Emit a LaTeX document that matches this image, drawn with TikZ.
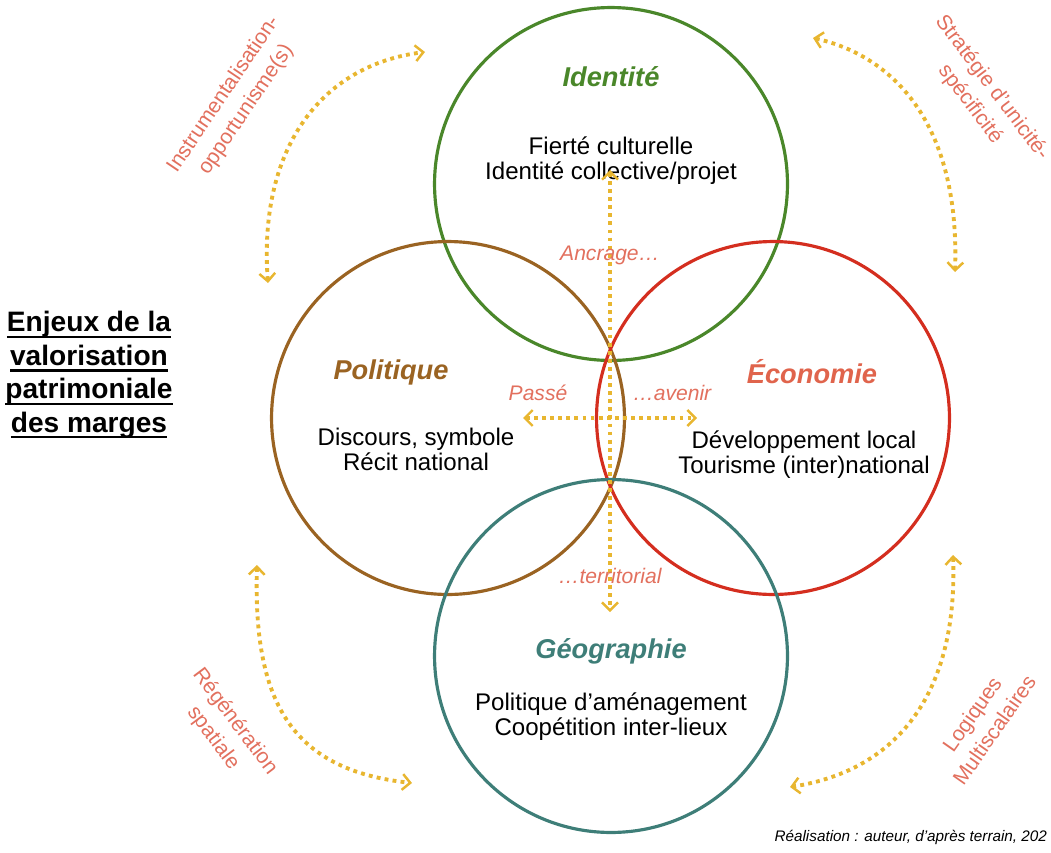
\documentclass[tikz,border=0pt]{standalone}
\usepackage{fontspec}
\setmainfont{Liberation Sans}
\usetikzlibrary{arrows.meta}
\newcommand\uln[1]{\leavevmode\setbox0=\hbox{#1}\rlap{\rule[-3.6pt]{\wd0}{1.3pt}}\box0}
\definecolor{idgreen}{HTML}{4A872A}
\definecolor{polbrown}{HTML}{9A6322}
\definecolor{ecored}{HTML}{D42E1F}
\definecolor{ecotext}{HTML}{E0644C}
\definecolor{geoteal}{HTML}{3E7E78}
\definecolor{salmon}{HTML}{E2705E}
\definecolor{gold}{HTML}{E8B630}
\tikzset{
every picture/.style={line width=0.8pt,
                      >={Straight Barb[length=4.5pt,width=9pt,line width=1.4pt]}},
%%%%%%%%%%  Node styles
sphere/.style={circle,draw,line width=1.8pt,inner sep=0pt,
               minimum size=7.06cm},
heading/.style={font=\fontsize{15.5}{18}\selectfont\bfseries\itshape},
body/.style={align=center,font=\fontsize{13.7}{14.3}\selectfont},
hint/.style={text=salmon,font=\fontsize{12}{13}\selectfont\itshape},
side/.style={text=salmon,align=center,font=\fontsize{12}{15.5}\selectfont},
%%%% arrow styles:
dotted link/.style={<->,draw=gold,line width=2.2pt,
                    dash pattern=on 2.2pt off 2.4pt}
}
\begin{document}
\begin{tikzpicture}[x=0.02cm,y=-0.02cm]
\useasboundingbox (0,0) rectangle (1051,852);
%%%% the four circles
\node[sphere,draw=idgreen] (idt) at (611,184) {};
\node[sphere,draw=polbrown] (pol) at (448,418) {};
\node[sphere,draw=ecored] (eco) at (773,418) {};
\node[sphere,draw=geoteal] (geo) at (611,656) {};
%%%% titles and contents
\node[heading,text=idgreen] (idt title) at (611,77) {Identité};
\node[body] (idt text) at (611,161) {Fierté culturelle\\Identité collective/projet};
\node[heading,text=polbrown] (pol title) at (391,372) {Politique};
\node[body] (pol text) at (416,449) {Discours, symbole\\Récit national};
\node[heading,text=ecotext] (eco title) at (812,372) {Économie};
\node[body] (eco text) at (804,455) {Développement local\\Tourisme (inter)national};
\node[heading,text=geoteal] (geo title) at (611,651) {Géographie};
\node[body] (geo text) at (611,717) {Politique d’aménagement\\Coopétition inter-lieux};
%%%% central cross
\coordinate (up) at (610,170);
\coordinate (down) at (610,612);
\coordinate (left) at (523,418);
\coordinate (right) at (697,418);
\draw[dotted link] (up) -- (down);
\draw[dotted link] (left) -- (right);
\node[hint] (anchor) at (610,255) {Ancrage…};
\node[hint] (past) at (538,393) {Passé};
\node[hint] (future) at (672,393) {…avenir};
\node[hint] (territ) at (610,576) {…territorial};
%%%% outer arcs
\coordinate (a1) at (268,283);
\coordinate (a2) at (425,52);
\coordinate (b1) at (813,38);
\coordinate (b2) at (955,272);
\coordinate (c1) at (257,565);
\coordinate (c2) at (412,783);
\coordinate (d1) at (953,555);
\coordinate (d2) at (790,787);
\draw[dotted link] (a1) .. controls (258,150) and (320,65) .. (a2);
\draw[dotted link] (b1) .. controls (890,55) and (960,120) .. (b2);
\draw[dotted link] (c1) .. controls (253,700) and (290,770) .. (c2);
\draw[dotted link] (d1) .. controls (958,690) and (900,770) .. (d2);
\node[side,rotate=56] (instr) at (235,102) {Instrumentalisation-\\opportunisme(s)};
\node[side,rotate=-53] (strat) at (981,96) {Stratégie d’unicité-\\spécificité};
\node[side,rotate=-53] (regen) at (224,730) {Régénération\\spatiale};
\node[side,rotate=55] (multi) at (983,722) {Logiques\\Multiscalaires};
%%%% left title and credit
\node[align=center,font=\fontsize{16}{19}\selectfont\bfseries] (main title) at (89,375)
     {\uln{Enjeux de la}\\\uln{valorisation}\\\uln{patrimoniale}\\\uln{des marges}};
\node[anchor=west,font=\fontsize{8.7}{10}\selectfont\itshape] (credit) at (768,837)
     {Réalisation : auteur, d’après terrain, 202};
\end{tikzpicture}
\end{document}
